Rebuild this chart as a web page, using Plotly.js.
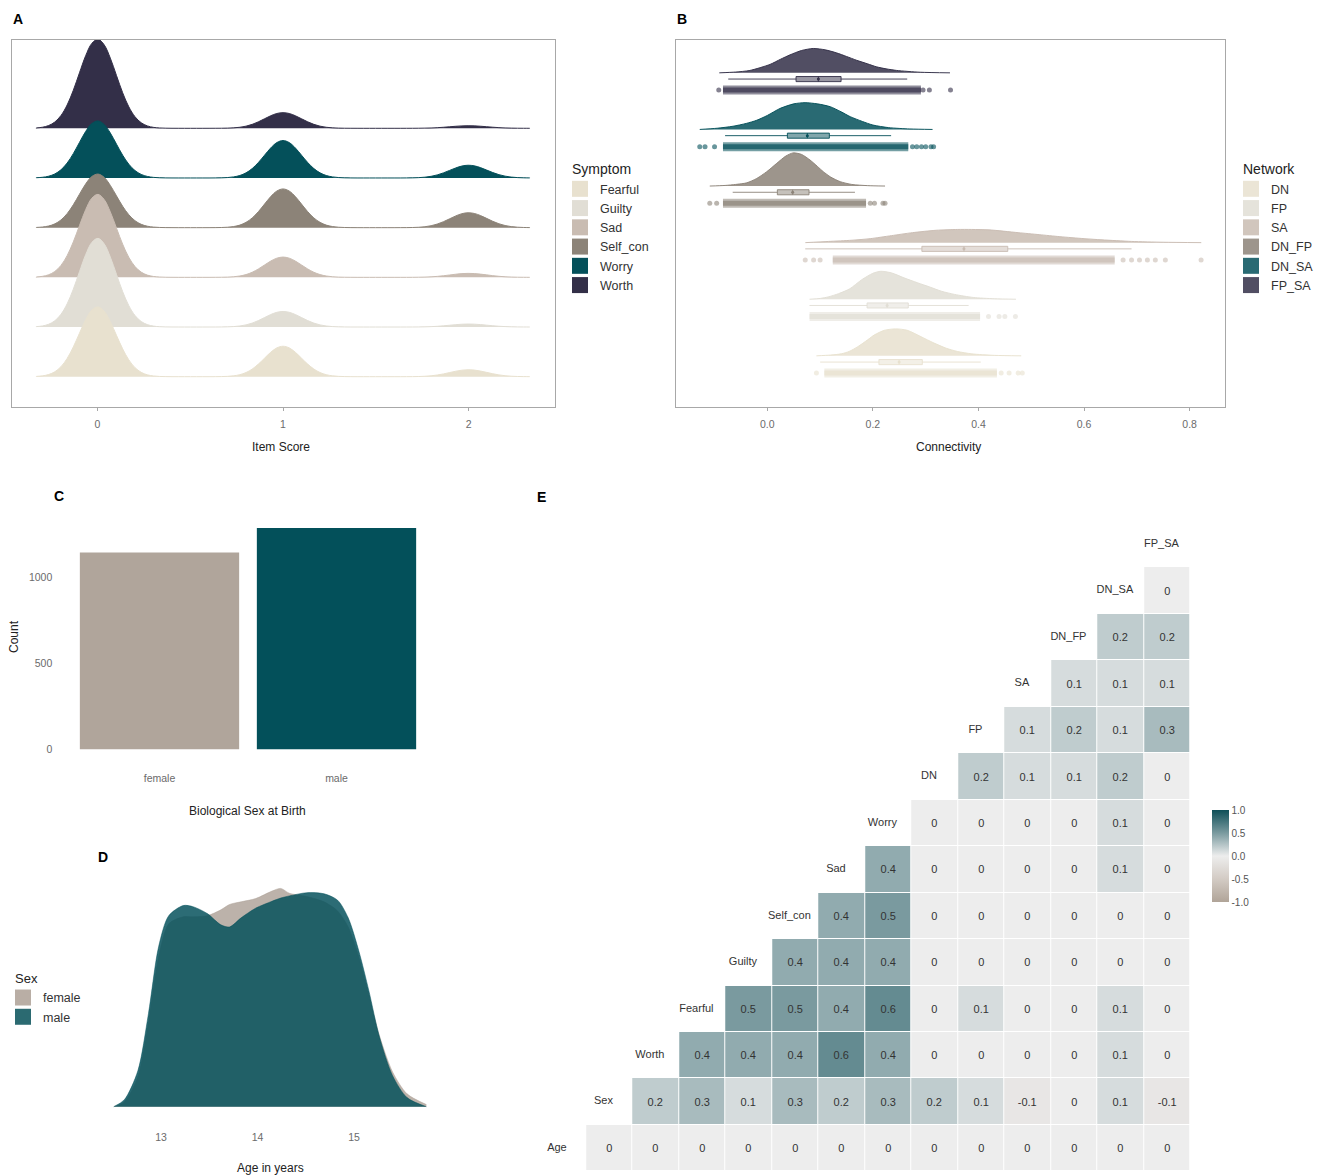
<!DOCTYPE html>
<html>
<head>
<meta charset="utf-8">
<script src="https://cdn.plot.ly/plotly-3.0.1.min.js"></script>
<style>
html,body{margin:0;padding:0;background:#ffffff;}
#chart{width:1320px;height:1176px;}
</style>
</head>
<body>
<div id="chart"></div>
<script>
// ================= DATA =================
// ---- Panel A: item score distributions (counts of score 0 / 1 / 2) ----
const scoreLevels = [0, 1, 2];
const symptomNames = ['Fearful', 'Guilty', 'Sad', 'Self_con', 'Worry', 'Worth'];
const countsFearful = [1583, 691, 158];
const countsGuilty  = [2011, 353, 68];
const countsSad     = [1882, 460, 90];
const countsSelfCon = [1216, 878, 338];
const countsWorry   = [1294, 849, 289];
const countsWorth   = [2019, 355, 58];

// ---- Panel B: connectivity per network (density) ----
const networkNames = ['DN', 'FP', 'SA', 'DN_FP', 'DN_SA', 'FP_SA'];
const bGridDN   = [0.093, 0.12, 0.14, 0.155, 0.1715, 0.19, 0.203, 0.222, 0.243, 0.265, 0.291, 0.315, 0.339, 0.36, 0.387, 0.43, 0.481];
const bDensDN   = [0, 0.2, 0.5, 1.1, 2.3, 4.0, 5.25, 6.4, 6.75, 6.4, 4.8, 3.25, 1.9, 1.1, 0.5, 0.12, 0];
const bGridFP   = [0.08, 0.1, 0.116, 0.135, 0.156, 0.179, 0.2, 0.215, 0.235, 0.259, 0.285, 0.307, 0.33, 0.355, 0.39, 0.43, 0.471];
const bDensFP   = [0, 0.2, 0.6, 1.4, 2.6, 4.9, 6.5, 7.0, 6.6, 5.35, 4.1, 3.1, 2.0, 1.2, 0.45, 0.12, 0];
const bGridSA   = [0.072, 0.116, 0.16, 0.195, 0.235, 0.275, 0.32, 0.36, 0.387, 0.42, 0.475, 0.515, 0.554, 0.6, 0.634, 0.69, 0.75, 0.822];
const bDensSA   = [0, 0.3, 0.6, 1.0, 1.75, 2.5, 3.1, 3.3, 3.3, 3.2, 2.5, 2.0, 1.5, 1.0, 0.7, 0.3, 0.1, 0];
const bGridDNFP = [-0.109, -0.08, -0.06, -0.039, -0.02, -0.001, 0.018, 0.035, 0.049, 0.065, 0.081, 0.095, 0.106, 0.12, 0.138, 0.16, 0.19, 0.223];
const bDensDNFP = [0, 0.15, 0.4, 0.8, 1.9, 3.6, 5.7, 7.5, 8.3, 7.9, 6.5, 4.9, 3.6, 2.25, 1.1, 0.4, 0.1, 0];
const bGridDNSA = [-0.128, -0.095, -0.065, -0.04, -0.02, 0.0, 0.024, 0.05, 0.0715, 0.095, 0.119, 0.14, 0.157, 0.18, 0.2, 0.23, 0.27, 0.313];
const bDensDNSA = [0, 0.3, 0.8, 1.5, 2.3, 3.5, 5.25, 6.4, 6.7, 6.4, 5.7, 4.4, 3.2, 2.0, 1.1, 0.45, 0.12, 0];
const bGridFPSA = [-0.091, -0.06, -0.033, 0.005, 0.025, 0.043, 0.065, 0.087, 0.11, 0.131, 0.15, 0.169, 0.19, 0.207, 0.225, 0.245, 0.29, 0.346];
const bDensFPSA = [0, 0.2, 0.6, 2.1, 3.4, 4.5, 5.6, 6.1, 5.75, 5.0, 4.1, 3.15, 2.25, 1.5, 1.0, 0.6, 0.15, 0];
// box statistics (DN, FP, SA, DN_FP, DN_SA, FP_SA)
const boxLow    = [0.100, 0.0798, 0.0718, -0.0656, -0.080, -0.074];
const boxQ1     = [0.2114, 0.189, 0.2928, 0.019, 0.038, 0.0544];
const boxMedian = [0.2497, 0.227, 0.3725, 0.048, 0.0758, 0.0967];
const boxQ3     = [0.2936, 0.267, 0.4555, 0.079, 0.1175, 0.1397];
const boxHigh   = [0.4044, 0.3813, 0.690, 0.166, 0.2345, 0.265];
// dense range of the individual points and the sparse points outside it
const pointsFrom = [0.108, 0.08, 0.124, -0.084, -0.084, -0.084];
const pointsTo   = [0.435, 0.403, 0.658, 0.187, 0.267, 0.291];
const sparseDN   = [0.093, 0.443, 0.458, 0.475, 0.483];
const sparseFP   = [0.419, 0.439, 0.45, 0.47];
const sparseSA   = [0.0718, 0.0877, 0.1, 0.674, 0.69, 0.705, 0.72, 0.735, 0.754, 0.8217];
const sparseDNFP = [-0.109, -0.096, 0.195, 0.203, 0.219, 0.223];
const sparseDNSA = [-0.128, -0.118, -0.1, 0.275, 0.283, 0.292, 0.3, 0.31, 0.315];
const sparseFPSA = [-0.092, 0.295, 0.307, 0.347];

// ---- Panel C: sex counts ----
const sexCategories = ['female', 'male'];
const sexCounts = [1145, 1287];

// ---- Panel D: age density by sex ----
const ageGrid = [12.51, 12.62, 12.76, 12.87, 12.975, 13.08, 13.23, 13.33, 13.48, 13.62, 13.71, 13.83, 13.98, 14.15, 14.24, 14.33, 14.51, 14.69, 14.83, 14.94, 15.05, 15.155, 15.26, 15.4, 15.55, 15.75];
const ageDensFemale = [0, 0.009, 0.056, 0.159, 0.280, 0.342, 0.355, 0.355, 0.357, 0.368, 0.378, 0.383, 0.389, 0.403, 0.408, 0.399, 0.393, 0.383, 0.366, 0.336, 0.280, 0.209, 0.135, 0.065, 0.024, 0.004];
const ageDensMale   = [0, 0.013, 0.067, 0.174, 0.299, 0.357, 0.376, 0.374, 0.361, 0.340, 0.336, 0.353, 0.371, 0.384, 0.390, 0.394, 0.400, 0.398, 0.386, 0.353, 0.291, 0.216, 0.133, 0.058, 0.017, 0];

// ---- Panel E: correlation matrix (upper triangle, row i -> columns i+1..) ----
const corrVars = ['Age', 'Sex', 'Worth', 'Fearful', 'Guilty', 'Self_con', 'Sad', 'Worry', 'DN', 'FP', 'SA', 'DN_FP', 'DN_SA', 'FP_SA'];
const corrAge     = [0, 0, 0, 0, 0, 0, 0, 0, 0, 0, 0, 0, 0];
const corrSex     = [0.2, 0.3, 0.1, 0.3, 0.2, 0.3, 0.2, 0.1, -0.1, 0, 0.1, -0.1];
const corrWorth   = [0.4, 0.4, 0.4, 0.6, 0.4, 0, 0, 0, 0, 0.1, 0];
const corrFearful = [0.5, 0.5, 0.4, 0.6, 0, 0.1, 0, 0, 0.1, 0];
const corrGuilty  = [0.4, 0.4, 0.4, 0, 0, 0, 0, 0, 0];
const corrSelfCon = [0.4, 0.5, 0, 0, 0, 0, 0, 0];
const corrSad     = [0.4, 0, 0, 0, 0, 0.1, 0];
const corrWorry   = [0, 0, 0, 0, 0.1, 0];
const corrDN      = [0.2, 0.1, 0.1, 0.2, 0];
const corrFP      = [0.1, 0.2, 0.1, 0.3];
const corrSA      = [0.1, 0.1, 0.1];
const corrDNFP    = [0.2, 0.2];
const corrDNSA    = [0];
const corrFPSA    = [];

// ================= STYLE =================
const FONT = 'Liberation Sans, Arial, Helvetica, sans-serif';
const palette = ['#E8E1CF', '#E1DED5', '#C9BCB2', '#8C8378', '#04505A', '#332F48'];
function rgba(hex, a) {
  const n = parseInt(hex.slice(1), 16);
  return 'rgba(' + ((n >> 16) & 255) + ',' + ((n >> 8) & 255) + ',' + (n & 255) + ',' + a + ')';
}
const W = 1320, H = 1176;
const px = v => v / W;
const py = v => 1 - v / H;
const traces = [];
const extraAxes = {};

// ================= PANEL A =================
// each ridge sits on its own overlaid y axis so all ridges share one density scale
const aTop = 39.5, aBottom = 406.5;          // panel A plot area (px)
const ridgeBase0 = 376.7, ridgeStep = 49.68; // baseline of the lowest ridge, spacing (px)
const ridgePxPerUnit = 178;                  // half violin (0.5 unit) = tallest ridge height
const symptomCounts = [countsFearful, countsGuilty, countsSad, countsSelfCon, countsWorry, countsWorth];
function expandCounts(counts) {
  const out = [];
  counts.forEach((n, k) => { for (let j = 0; j < n; j++) out.push(scoreLevels[k]); });
  return out;
}
for (let i = symptomNames.length - 1, a = 12; i >= 0; i--, a++) {
  const base = ridgeBase0 - ridgeStep * i;
  extraAxes['yaxis' + a] = {overlaying: 'y', anchor: 'x', visible: false, showgrid: false, zeroline: false,
    range: [-(aBottom - base) / ridgePxPerUnit, (base - aTop) / ridgePxPerUnit]};
  traces.push({
    type: 'violin', orientation: 'h', name: symptomNames[i],
    x: expandCounts(symptomCounts[i]), y0: 0,
    side: 'positive', scalegroup: 'ridges', scalemode: 'width',
    bandwidth: 0.1, spanmode: 'manual', span: [-0.33, 2.33],
    points: false, box: {visible: false}, meanline: {visible: false},
    line: {color: palette[i], width: 1}, fillcolor: palette[i], opacity: 1,
    showlegend: false, hoverinfo: 'skip', xaxis: 'x', yaxis: 'y' + a
  });
}
symptomNames.forEach((nm, i) => {
  traces.push({type: 'scatter', mode: 'markers', x: [null], y: [null], name: nm,
    marker: {symbol: 'square', size: 16, color: palette[i]}, legend: 'legend', xaxis: 'x', yaxis: 'y'});
});

// ================= PANEL B =================
const bGrids = [bGridDN, bGridFP, bGridSA, bGridDNFP, bGridDNSA, bGridFPSA];
const bDens = [bDensDN, bDensFP, bDensSA, bDensDNFP, bDensDNSA, bDensFPSA];
const bSparse = [sparseDN, sparseFP, sparseSA, sparseDNFP, sparseDNSA, sparseFPSA];
const densToRow = 4 / 56.67;
networkNames.forEach((nm, i) => {
  const c = palette[i];
  traces.push({type: 'scatter', mode: 'lines', x: bGrids[i], y: bDens[i].map(v => i + v * densToRow),
    fill: 'toself', fillcolor: rgba(c, 0.85), line: {color: rgba(c, 0.95), width: 1, shape: 'spline', smoothing: 0.7},
    showlegend: false, hoverinfo: 'skip', xaxis: 'x2', yaxis: 'y2'});
});
networkNames.forEach((nm, i) => {
  const c = palette[i];
  traces.push({type: 'box', orientation: 'h', name: nm, y: [i - 0.11],
    lowerfence: [boxLow[i]], q1: [boxQ1[i]], median: [boxMedian[i]], q3: [boxQ3[i]], upperfence: [boxHigh[i]],
    width: 0.09, whiskerwidth: 0, boxpoints: false, fillcolor: rgba(c, 0.5), line: {color: rgba(c, 0.9), width: 1},
    showlegend: false, hoverinfo: 'skip', xaxis: 'x2', yaxis: 'y2'});
  traces.push({type: 'scatter', mode: 'markers', x: [boxMedian[i]], y: [i - 0.11],
    marker: {size: 3, color: c}, showlegend: false, hoverinfo: 'skip', xaxis: 'x2', yaxis: 'y2'});
  traces.push({type: 'scatter', mode: 'lines', x: [pointsFrom[i], pointsTo[i]], y: [i - 0.305, i - 0.305],
    line: {color: rgba(c, 0.55), width: 9}, showlegend: false, hoverinfo: 'skip', xaxis: 'x2', yaxis: 'y2'});
  traces.push({type: 'scatter', mode: 'lines', x: [pointsFrom[i], pointsTo[i]], y: [i - 0.305, i - 0.305],
    line: {color: rgba(c, 0.7), width: 5}, showlegend: false, hoverinfo: 'skip', xaxis: 'x2', yaxis: 'y2'});
  traces.push({type: 'scatter', mode: 'markers', x: bSparse[i], y: bSparse[i].map(() => i - 0.305),
    marker: {size: 5, color: rgba(c, 0.6)}, showlegend: false, hoverinfo: 'skip', xaxis: 'x2', yaxis: 'y2'});
});
networkNames.forEach((nm, i) => {
  traces.push({type: 'scatter', mode: 'markers', x: [null], y: [null], name: nm,
    marker: {symbol: 'square', size: 16, color: rgba(palette[i], 0.85)}, legend: 'legend2', xaxis: 'x2', yaxis: 'y2'});
});

// ================= PANEL C =================
traces.push({type: 'bar', x: sexCategories, y: sexCounts, marker: {color: ['#B0A59B', '#03505A']},
  width: 0.9, showlegend: false, hoverinfo: 'skip', xaxis: 'x3', yaxis: 'y3'});

// ================= PANEL D =================
const sexFill = ['rgba(176,165,155,0.85)', 'rgba(3,80,90,0.84)'];
[ageDensFemale, ageDensMale].forEach((dens, k) => {
  traces.push({type: 'scatter', mode: 'lines', x: ageGrid, y: dens, fill: 'tozeroy', fillcolor: sexFill[k],
    line: {color: sexFill[k], width: 0.6, shape: 'spline', smoothing: 0.8},
    showlegend: false, hoverinfo: 'skip', xaxis: 'x4', yaxis: 'y4'});
});
['female', 'male'].forEach((nm, k) => {
  traces.push({type: 'scatter', mode: 'markers', x: [null], y: [null], name: nm,
    marker: {symbol: 'square', size: 16, color: k === 0 ? '#B9AEA5' : '#2B6A71'}, legend: 'legend3', xaxis: 'x4', yaxis: 'y4'});
});

// ================= PANEL E =================
const corrRows = [corrAge, corrSex, corrWorth, corrFearful, corrGuilty, corrSelfCon, corrSad, corrWorry, corrDN, corrFP, corrSA, corrDNFP, corrDNSA, corrFPSA];
const nv = corrVars.length;
const idx = corrVars.map((_, i) => i);
const zMat = corrRows.map((vals, r) => {
  const row = new Array(nv).fill(null);
  vals.forEach((v, k) => { row[r + 1 + k] = v; });
  return row;
});
const zText = zMat.map(row => row.map(v => (v === null ? '' : String(v))));
traces.push({type: 'heatmap', x: idx, y: idx, z: zMat, zmin: -1, zmax: 1, text: zText,
  colorscale: [[0, '#B0A498'], [0.25, '#D3CBC4'], [0.5, '#EDEDED'], [0.75, '#7A9A9F'], [1, '#0E4F58']],
  xgap: 1, ygap: 1, texttemplate: '%{text}', textfont: {size: 11, color: '#333333', family: FONT},
  hoverinfo: 'skip', hoverongaps: false,
  colorbar: {x: 1212 / 1320, xanchor: 'left', y: 1 - 856 / 1176, yanchor: 'middle', len: 92, lenmode: 'pixels',
    thickness: 17, outlinewidth: 0, xpad: 0, ypad: 0, ticks: '', ticklabelstandoff: 3,
    tickvals: [-1, -0.5, 0, 0.5, 1], ticktext: ['-1.0', '-0.5', '0.0', '0.5', '1.0'],
    tickfont: {size: 10, color: '#555555', family: FONT}},
  xaxis: 'x5', yaxis: 'y5'});
traces.push({type: 'scatter', mode: 'text', x: idx.map(i => i - 0.12), y: idx, text: corrVars,
  textfont: {size: 11, color: '#333333', family: FONT}, showlegend: false, hoverinfo: 'skip', xaxis: 'x5', yaxis: 'y5'});

// ================= LAYOUT =================
const tickFont = {size: 10.5, color: '#6B6B6B', family: FONT};
const boxAxis = {showline: true, mirror: true, linecolor: '#A8A8A8', linewidth: 1, showgrid: false, zeroline: false};
const hidden = {visible: false, showgrid: false, zeroline: false};
function ann(text, x, y, opts) {
  return Object.assign({text: text, x: px(x), y: py(y), xref: 'paper', yref: 'paper', showarrow: false,
    xanchor: 'center', yanchor: 'middle', font: {size: 12, color: '#222222', family: FONT}}, opts || {});
}
const panelFont = {size: 14, color: '#000000', family: FONT, weight: 'bold'};
const legendBase = {xanchor: 'left', yanchor: 'top', bgcolor: 'rgba(0,0,0,0)', borderwidth: 0, indentation: -10,
  font: {size: 12.5, color: '#333333', family: FONT}, tracegroupgap: 0, itemclick: false};

const layout = Object.assign({
  width: W, height: H, margin: {l: 0, r: 0, t: 0, b: 0},
  paper_bgcolor: '#ffffff', plot_bgcolor: 'rgba(0,0,0,0)',
  font: {family: FONT, color: '#333333'},
  hovermode: false, violinmode: 'overlay', violingap: 0, violingroupgap: 0, boxmode: 'overlay', bargap: 0.1,
  showlegend: true,
  xaxis: Object.assign({}, boxAxis, {domain: [px(12), px(555)], range: [-0.461, 2.466], tickvals: scoreLevels,
    ticks: 'outside', ticklen: 3, tickcolor: '#A8A8A8', tickfont: tickFont, ticklabelstandoff: 5, anchor: 'y'}),
  yaxis: Object.assign({}, boxAxis, {domain: [py(aBottom), py(aTop)], range: [0, 1], type: 'linear',
    showticklabels: false, ticks: '', anchor: 'x'}),
  xaxis2: Object.assign({}, boxAxis, {domain: [px(676), px(1225)], range: [-0.173, 0.867], tickvals: [0, 0.2, 0.4, 0.6, 0.8],
    ticktext: ['0.0', '0.2', '0.4', '0.6', '0.8'], ticks: 'outside', ticklen: 3, tickcolor: '#A8A8A8', tickfont: tickFont,
    ticklabelstandoff: 5, anchor: 'y2'}),
  yaxis2: Object.assign({}, boxAxis, {domain: [py(aBottom), py(aTop)], range: [-0.895, 5.589], type: 'linear',
    showticklabels: false, ticks: '', anchor: 'x2'}),
  xaxis3: {domain: [px(53.3), px(442.7)], range: [-0.6, 1.6], type: 'category', showline: false, showgrid: false,
    zeroline: false, ticks: '', tickfont: tickFont, ticklabelstandoff: 10, anchor: 'y3'},
  yaxis3: {domain: [py(760.8), py(517)], range: [-67, 1351], showline: false, showgrid: false, zeroline: false,
    ticks: '', tickvals: [0, 500, 1000], tickfont: tickFont, anchor: 'x3'},
  xaxis4: {domain: [px(98.3), px(441.8)], range: [12.35, 15.91], showline: false, showgrid: false, zeroline: false,
    ticks: '', tickvals: [13, 14, 15], tickfont: tickFont, ticklabelstandoff: 12, anchor: 'y4'},
  yaxis4: Object.assign({}, hidden, {domain: [py(1117.4), py(875.6)], range: [-0.02, 0.432], anchor: 'x4'}),
  xaxis5: Object.assign({}, hidden, {domain: [px(539.25), px(1190.25)], range: [-0.5, 13.5], anchor: 'y5'}),
  yaxis5: Object.assign({}, hidden, {domain: [py(1171.4), py(521)], range: [-0.5, 13.5], anchor: 'x5'}),
  legend: Object.assign({}, legendBase, {x: px(570), y: py(156), title: {text: 'Symptom', font: {size: 14, color: '#222222', family: FONT}}}),
  legend2: Object.assign({}, legendBase, {x: px(1241), y: py(156), title: {text: 'Network', font: {size: 14, color: '#222222', family: FONT}}}),
  legend3: Object.assign({}, legendBase, {x: px(13), y: py(966), title: {text: 'Sex', font: {size: 13, color: '#222222', family: FONT}}}),
  annotations: [
    ann('A', 18, 19, {font: panelFont}),
    ann('B', 682, 19, {font: panelFont}),
    ann('C', 59, 496, {font: panelFont}),
    ann('D', 103, 857, {font: panelFont}),
    ann('E', 541, 497, {font: panelFont}),
    ann('Item Score', 281, 447),
    ann('Connectivity', 948, 447),
    ann('Count', 14, 637, {textangle: -90}),
    ann('Biological Sex at Birth', 247, 811),
    ann('Age in years', 270, 1168)
  ]
}, extraAxes);

Plotly.newPlot('chart', traces, layout, {displayModeBar: false, staticPlot: true});
</script>
</body>
</html>
